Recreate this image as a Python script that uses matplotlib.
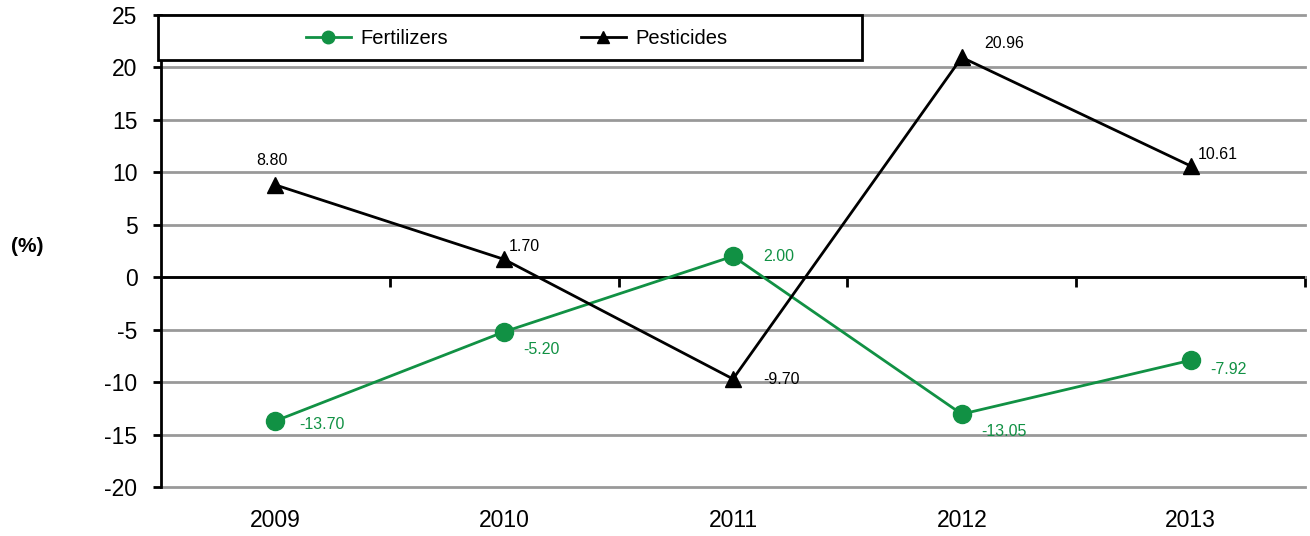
import matplotlib.pyplot as plt
from matplotlib.patches import Rectangle
from matplotlib.lines import Line2D

plt.rcParams['font.family'] = ['Liberation Sans', 'DejaVu Sans']
plt.rcParams['axes.unicode_minus'] = False

# Dados do gráfico
anos = ['2009', '2010', '2011', '2012', '2013']
fertilizantes = [-13.70, -5.20, 2.00, -13.05, -7.92]
pesticidas = [8.80, 1.70, -9.70, 20.96, 10.61]
y_ticks = [-20, -15, -10, -5, 0, 5, 10, 15, 20, 25]

cor_fert = '#119144'
cor_pest = 'black'

# deslocamento dos rótulos (pixels) e alinhamento
offs_fert = [(24, -4), (19, -18), (30, 0), (19, -17), (20, -9)]
offs_pest = [(-3, 24), (5, 13), (30, -1), (22, 14), (7, 11)]
ha_pest = ['center', 'left', 'left', 'left', 'left']

W, H = 1310, 536
fig = plt.figure(figsize=(W / 100, H / 100), dpi=100)
ax = fig.add_axes([161 / W, 1 - 487 / H, (1305 - 161) / W, (487 - 15) / H])

x = list(range(len(anos)))

# Grade horizontal
ax.set_ylim(-20, 25)
ax.set_xlim(-0.5, len(anos) - 0.5)
ax.set_yticks(y_ticks)
ax.yaxis.grid(True, color='#999999', linewidth=2)
ax.set_axisbelow(True)
for linha in ax.get_ygridlines():
    linha.set_clip_on(False)

for lado in ['top', 'right', 'bottom']:
    ax.spines[lado].set_visible(False)
ax.spines['left'].set_linewidth(2)
ax.tick_params(axis='y', direction='out', length=6, width=2, labelsize=16.5, pad=11)
ax.set_xticks(x)
ax.set_xticklabels(anos)
ax.tick_params(axis='x', length=0, labelsize=16.5, pad=16)

# Linha do zero com marcas entre categorias
ax.axhline(0, color='black', linewidth=2, zorder=2)
sec = ax.secondary_xaxis(0, transform=ax.transData)
sec.set_xticks([i + 0.5 for i in x])
sec.tick_params(direction='out', length=7, width=2, labelbottom=False)
sec.spines['bottom'].set_linewidth(2)

# Séries
ax.plot(x, fertilizantes, color=cor_fert, linewidth=2, marker='o', markersize=13, zorder=3)
ax.plot(x, pesticidas, color=cor_pest, linewidth=2, marker='^', markersize=11, zorder=3)

for i, v in enumerate(fertilizantes):
    ax.annotate(f'{v:.2f}', (i, v), xytext=(offs_fert[i][0] * 0.72, offs_fert[i][1] * 0.72),
                textcoords='offset points', ha='left', va='center', fontsize=11.5, color=cor_fert)
for i, v in enumerate(pesticidas):
    ax.annotate(f'{v:.2f}', (i, v), xytext=(offs_pest[i][0] * 0.72, offs_pest[i][1] * 0.72),
                textcoords='offset points', ha=ha_pest[i], va='center', fontsize=11.5, color=cor_pest)

# Caixa da legenda
fig.add_artist(Rectangle((158 / W, 1 - 60 / H), (862 - 158) / W, 45 / H, transform=fig.transFigure,
                         facecolor='white', edgecolor='black', linewidth=2, zorder=5))
handles = [Line2D([], [], color=cor_fert, linewidth=2, marker='o', markersize=9),
           Line2D([], [], color=cor_pest, linewidth=2, marker='^', markersize=9)]
leg = fig.legend(handles, ['Fertilizers', 'Pesticides'], loc='center',
                 bbox_to_anchor=(517 / W, 1 - 39 / H), ncol=2, frameon=False, fontsize=14.5,
                 handlelength=2.2, handletextpad=0.5, columnspacing=6.6)
leg.set_zorder(6)

fig.text(27 / W, 1 - 247 / H, '(%)', fontsize=15, fontweight='bold', ha='center', va='center')

fig.savefig('out.png', dpi=100)
